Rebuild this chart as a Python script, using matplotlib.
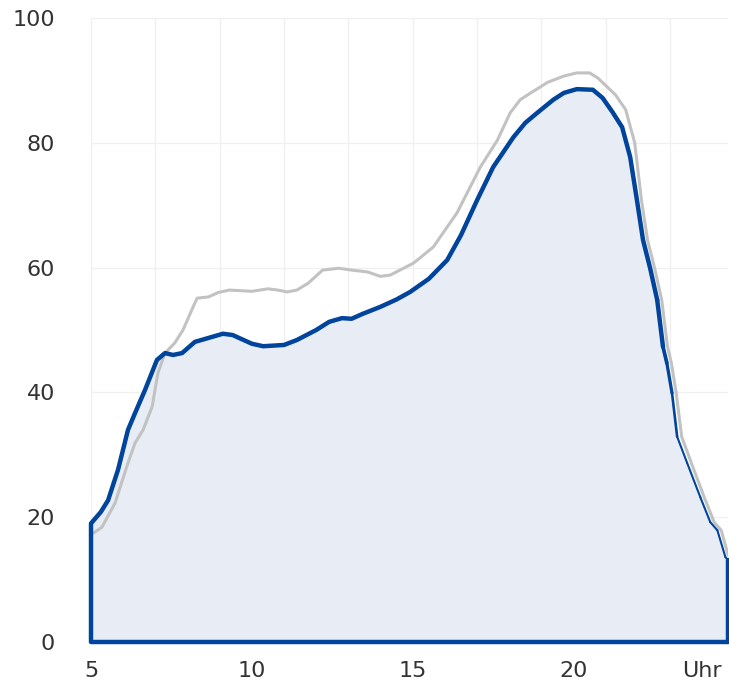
import numpy as np
import matplotlib.pyplot as plt

# hour of day vs. value
blue_x = [5.0, 5.3, 5.53, 5.84, 6.15, 6.37, 6.68, 7.05, 7.3, 7.55, 7.83, 8.23, 8.5, 9.1, 9.4,
          10.0, 10.35, 11.0, 11.4, 12.0, 12.4, 12.8, 13.1, 13.45, 13.99, 14.5, 14.92, 15.5,
          16.07, 16.5, 17.0, 17.5, 18.13, 18.5, 18.87, 19.37, 19.7, 20.1, 20.6, 20.9, 21.2,
          21.51, 21.76, 21.97, 22.16, 22.38, 22.6, 22.78, 22.9, 23.06, 23.22, 23.53, 23.94,
          24.25, 24.47, 24.72, 24.8]
blue_y = [19, 20.8, 22.7, 27.6, 34, 36.7, 40.4, 45.2, 46.3, 46, 46.3, 48.1, 48.5, 49.4, 49.2,
          47.8, 47.4, 47.6, 48.4, 50, 51.3, 51.9, 51.8, 52.6, 53.7, 54.9, 56.1, 58.2,
          61.2, 65.2, 70.8, 76.1, 80.9, 83.2, 84.8, 86.9, 88, 88.6, 88.5, 87.2, 85,
          82.5, 77.7, 70.8, 64.4, 59.9, 54.8, 47.3, 44.7, 39.9, 32.9, 28.7, 23.2,
          19.2, 17.9, 13.6, 13.1]

gray_x = [5.0, 5.34, 5.75, 6.15, 6.37, 6.62, 6.9, 7.08, 7.3, 7.6, 7.86, 8.2, 8.3, 8.65, 8.95,
          9.3, 10.0, 10.5, 10.8, 11.1, 11.4, 11.75, 12.2, 12.7, 13.1, 13.6, 13.99, 14.3,
          15.02, 15.64, 16.38, 17.1, 17.63, 18.03, 18.34, 18.7, 19.2, 19.7, 20.1, 20.5,
          20.75, 21.3, 21.62, 21.9, 22.11, 22.3, 22.52, 22.74, 22.92, 23.04, 23.19, 23.36,
          23.66, 24.06, 24.37, 24.59, 24.8]
gray_y = [17.2, 18.4, 22.3, 28.7, 31.9, 34, 37.7, 43.1, 46.3, 47.9, 50, 54, 55.1, 55.3, 56,
          56.4, 56.2, 56.6, 56.4, 56.1, 56.4, 57.5, 59.6, 59.9, 59.6, 59.3, 58.6, 58.8,
          60.7, 63.3, 68.8, 76.1, 80.4, 84.8, 86.9, 88.1, 89.7, 90.7, 91.2, 91.2,
          90.4, 87.7, 85.3, 80, 70.8, 64.4, 59.9, 54.8, 47.3, 44.7, 39.9, 32.9,
          28.7, 23.2, 19.2, 17.9, 14]

x_ticks = [5, 10, 15, 20, 24]
x_labels = ["5", "10", "15", "20", "Uhr"]
y_ticks = [0, 20, 40, 60, 80, 100]

BLUE = "#00449b"
GRAY = "#c2c2c2"
FILL = "#e8edf5"
TEXT = "#333333"

fig = plt.figure(figsize=(7.29, 6.92), dpi=100)
ax = fig.add_axes([91 / 729, 1 - 642 / 692, (728 - 91) / 729, (642 - 18) / 692])

# light grid: every 2 hours vertically, every 20 horizontally
for gx in np.arange(5, 26, 2):
    ax.axvline(gx, color="#f0f0f0", lw=1, zorder=0)
for gy in y_ticks[1:]:
    ax.axhline(gy, color="#f0f0f0", lw=1, zorder=0)

bx = np.array(blue_x)
by = np.array(blue_y)
ax.fill_between(bx, 0, by, color=FILL, lw=0, zorder=1)
ax.plot(gray_x, gray_y, color=GRAY, lw=2.2, zorder=2, solid_joinstyle="round")

# blue outline closes the area down to the baseline
cut = np.searchsorted(bx, 22.6)
ox = np.concatenate([[bx[-1], bx[0], bx[0]], bx[:cut + 1]])
oy = np.concatenate([[0, 0, by[0]], by[:cut + 1]])
ax.plot(ox, oy, color=BLUE, lw=3.2, zorder=3, clip_on=False,
        solid_joinstyle="round", solid_capstyle="round")
# late evening part tapers to a thinner stroke
for i in range(cut, len(bx) - 1):
    t = min(1.0, (bx[i] - 22.6) / 0.6)
    ax.plot(bx[i:i + 2], by[i:i + 2], color=BLUE, lw=3.2 - 1.7 * t, zorder=3,
            clip_on=False, solid_capstyle="round")
ax.plot([bx[-1], bx[-1]], [by[-1], 0], color=BLUE, lw=3.2, zorder=3, clip_on=False,
        solid_capstyle="round")

ax.set_xlim(5, 24.8)
ax.set_ylim(0, 100)
ax.set_xticks(x_ticks)
ax.set_xticklabels(x_labels)
ax.set_yticks(y_ticks)
for s in ax.spines.values():
    s.set_visible(False)
ax.tick_params(length=0, labelsize=16, labelcolor=TEXT, pad=14)
ax.tick_params(axis="y", pad=26)

fig.savefig("out.png", dpi=100)
